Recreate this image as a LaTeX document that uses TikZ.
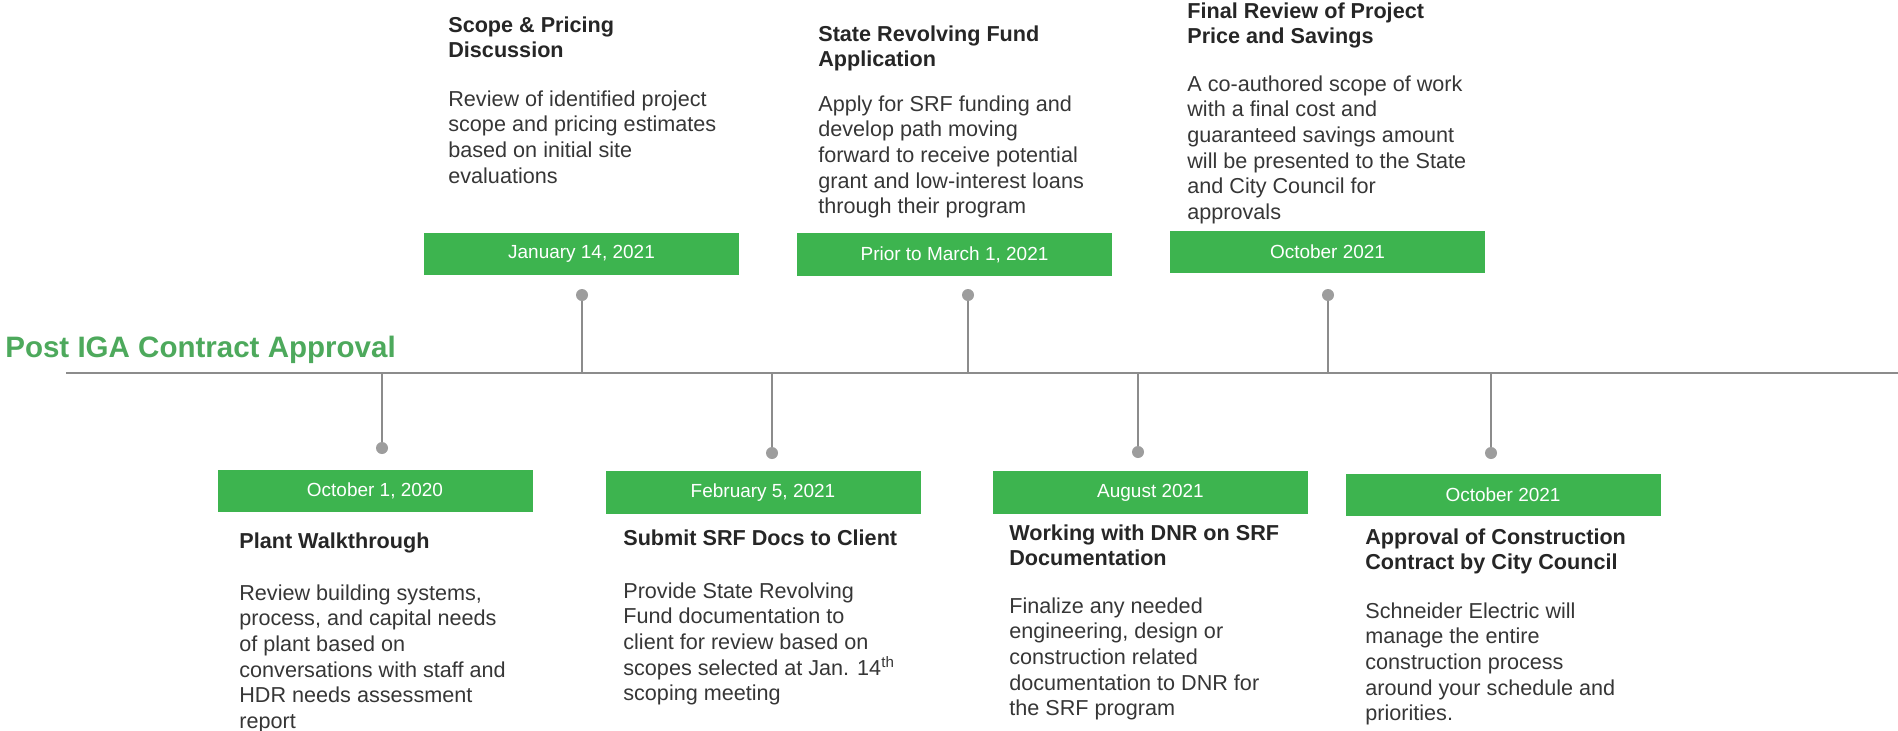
\documentclass[tikz,border=0pt]{standalone}
\usepackage{fontspec}
\setmainfont{Liberation Sans}

\definecolor{boxgreen}{HTML}{3DB44F}
\definecolor{titlegreen}{HTML}{4DA95C}
\definecolor{linegray}{HTML}{8C8C8C}
\definecolor{headgray}{HTML}{262626}
\definecolor{bodygray}{HTML}{363636}

\begin{document}
\begin{tikzpicture}[
    datebox/.style={fill=boxgreen, text=white, inner sep=0pt,
        minimum width=6.3cm, minimum height=0.85cm,
        font=\fontsize{10.8}{13}\selectfont},
    % text blocks: the given point is the baseline of the first line
    head/.style={anchor=north west, yshift=10.08pt, inner sep=0pt, align=left,
        text=headgray, font=\fontsize{12.3}{14.4}\selectfont\bfseries,
        execute at begin node=\strut},
    body/.style={anchor=north west, yshift=10.22pt, inner sep=0pt, align=left,
        text=bodygray, font=\fontsize{12.3}{14.6}\selectfont,
        execute at begin node=\strut},
    dot/.style={circle, fill=linegray!85, inner sep=0pt, minimum size=0.24cm},
    stem/.style={draw=linegray, line width=1.1pt},
    axis/.style={draw=linegray, line width=1.5pt}
]
    \useasboundingbox (0,0) rectangle (37.96,-14.6);
    \clip (0,0) rectangle (37.96,-14.6);

    % title and time axis
    \node[anchor=base west, inner sep=0pt, text=titlegreen,
        font=\fontsize{16.8}{20}\selectfont\bfseries] (title) at (0.1,-7.14) {Post IGA Contract Approval};
    \coordinate (axl) at (1.32,-7.46);
    \coordinate (axr) at (37.96,-7.46);
    \draw[axis] (axl) -- (axr);

    % events above the axis
    \node[datebox] (jan) at (11.63,-5.08) {January 14, 2021};
    \node[datebox] (mar) at (19.09,-5.09) {Prior to March 1, 2021};
    \node[datebox] (octa) at (26.55,-5.04) {October 2021};

    \node[dot] (djan) at (11.64,-5.9) {};
    \node[dot] (dmar) at (19.36,-5.9) {};
    \node[dot] (docta) at (26.56,-5.9) {};

    \draw[stem] (djan) -- (djan |- axl);
    \draw[stem] (dmar) -- (dmar |- axl);
    \draw[stem] (docta) -- (docta |- axl);

    \node[head] (hjan) at (8.96,-0.68) {Scope \& Pricing\\Discussion};
    \node[body] (tjan) at (8.96,-2.16) {Review of identified project\\scope and pricing estimates\\based on initial site\\evaluations};

    \node[head] (hmar) at (16.36,-0.86) {State Revolving Fund\\Application};
    \node[body] (tmar) at (16.36,-2.26) {Apply for SRF funding and\\develop path moving\\forward to receive potential\\grant and low-interest loans\\through their program};

    \node[head] (hocta) at (23.74,-0.40) {Final Review of Project\\Price and Savings};
    \node[body] (tocta) at (23.74,-1.86) {A co-authored scope of work\\with a final cost and\\guaranteed savings amount\\will be presented to the State\\and City Council for\\approvals};

    % events below the axis
    \node[datebox] (oct) at (7.5,-9.82) {October 1, 2020};
    \node[datebox] (feb) at (15.26,-9.85) {February 5, 2021};
    \node[datebox] (aug) at (23.01,-9.85) {August 2021};
    \node[datebox] (octb) at (30.06,-9.9) {October 2021};

    \node[dot] (doct) at (7.64,-8.96) {};
    \node[dot] (dfeb) at (15.44,-9.06) {};
    \node[dot] (daug) at (22.76,-9.04) {};
    \node[dot] (doctb) at (29.82,-9.06) {};

    \draw[stem] (doct |- axl) -- (doct);
    \draw[stem] (dfeb |- axl) -- (dfeb);
    \draw[stem] (daug |- axl) -- (daug);
    \draw[stem] (doctb |- axl) -- (doctb);

    \node[head] (hoct) at (4.78,-10.96) {Plant Walkthrough};
    \node[body] (toct) at (4.78,-12.04) {Review building systems,\\process, and capital needs\\of plant based on\\conversations with staff and\\HDR needs assessment\\report};

    \node[head] (hfeb) at (12.46,-10.90) {Submit SRF Docs to Client};
    \node[body] (tfeb) at (12.46,-12.00) {Provide State Revolving\\Fund documentation to\\client for review based on\\scopes selected at Jan. 14\textsuperscript{th}\\scoping meeting};

    \node[head] (haug) at (20.18,-10.84) {Working with DNR on SRF\\Documentation};
    \node[body] (taug) at (20.18,-12.30) {Finalize any needed\\engineering, design or\\construction related\\documentation to DNR for\\the SRF program};

    \node[head] (hoctb) at (27.30,-10.92) {Approval of Construction\\Contract by City Council};
    \node[body] (toctb) at (27.30,-12.40) {Schneider Electric will\\manage the entire\\construction process\\around your schedule and\\priorities.};
\end{tikzpicture}
\end{document}
